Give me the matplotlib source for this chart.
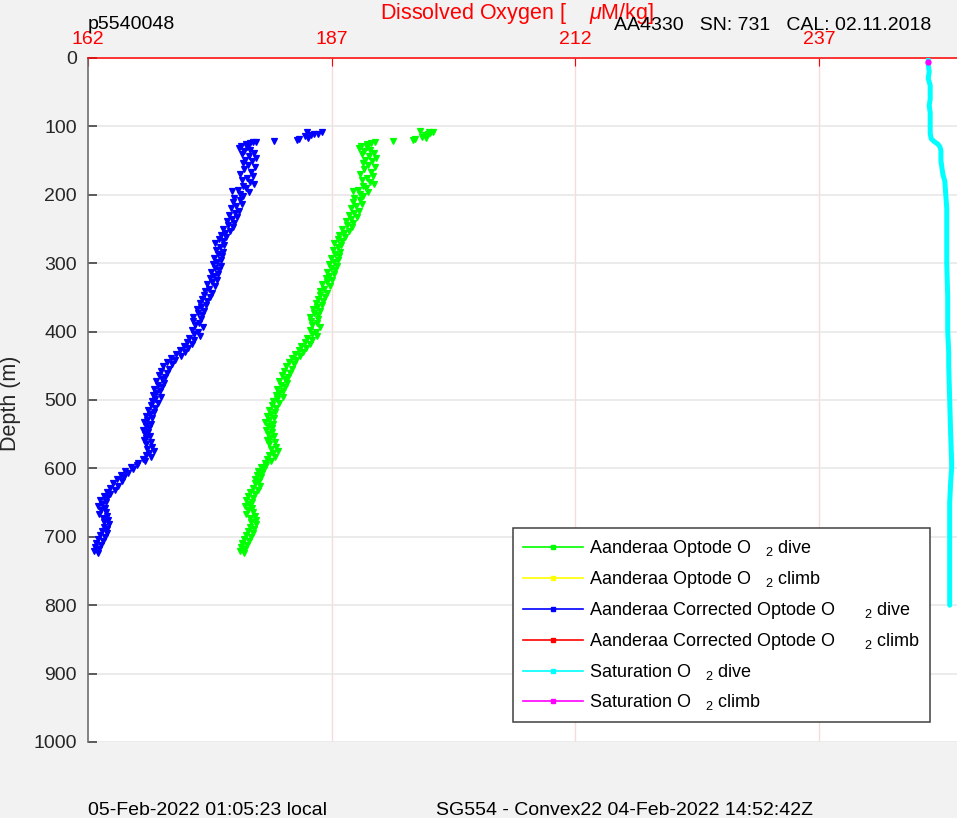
import matplotlib
matplotlib.use("Agg")
import matplotlib.pyplot as plt
from matplotlib.lines import Line2D

plt.rcParams['font.family'] = ['Liberation Sans', 'DejaVu Sans']
plt.rcParams['mathtext.fontset'] = 'custom'
plt.rcParams['mathtext.rm'] = 'Liberation Sans'
plt.rcParams['mathtext.it'] = 'Liberation Sans:italic'

# ---------------- data ----------------
x_ticks = [162, 187, 212, 237]
y_ticks = [0, 100, 200, 300, 400, 500, 600, 700, 800, 900, 1000]

# top outliers (near-surface start of the profile)
blue_top_depth = [108.7, 110.5, 111.6, 107.7, 112.5, 116.5, 114.0, 118.9, 119.5, 120.9, 122.3, 123.5, 124.7, 126.0]
blue_top_o2 = [186.0, 185.6, 185.2, 184.5, 184.9, 184.6, 184.3, 183.6, 183.4, 181.1, 179.2, 178.9, 178.6, 178.2]
green_top_depth = [106.7, 108.7, 107.5, 110.0, 111.5, 113.0, 116.5, 115.0, 118.9, 119.5, 120.9, 122.3, 124.0, 126.0]
green_top_o2 = [196.1, 197.4, 197.0, 197.1, 196.9, 196.6, 196.7, 196.3, 195.5, 195.3, 193.3, 191.4, 191.0, 190.6]

col_depth = [128, 130, 132, 134, 136, 139, 141, 144, 146, 149, 151, 154, 157, 160, 163, 166, 169, 172, 175, 178,
             181, 184, 187, 190, 193, 194, 196, 199,
             202, 205, 208, 211, 214, 217, 220, 223, 226, 229, 232, 235, 238, 241, 244, 247, 250, 253, 256, 259,
             262, 265, 268, 271, 274, 277, 280, 283, 286, 289, 292, 295, 298, 301, 304, 307, 310, 313, 316, 319,
             322, 325, 328, 331, 334, 337, 340, 343, 346, 349, 352, 355, 358, 361, 364, 367, 370, 373, 376, 379,
             382, 385, 388, 391, 394, 397, 400, 403, 406, 409, 412, 415, 418, 421, 424, 427, 430, 433, 436, 439,
             442, 445, 448, 451, 454, 457, 460, 463, 466, 469, 472, 475, 478, 481, 484, 487, 490, 493, 496, 499,
             502, 505, 508, 511, 514, 517, 520, 523, 526, 529, 532, 535, 538, 541, 544, 547, 550, 553, 556, 559,
             562, 565, 568, 571, 574, 577, 580, 583, 586, 589, 592, 595, 598, 601, 604, 607, 610, 613, 616, 619,
             622, 625, 628, 631, 634, 637, 640, 643, 646, 649, 652, 655, 658, 661, 664, 667, 670, 673, 676, 679,
             682, 685, 688, 691, 694, 697, 700, 703, 706, 709, 712, 715, 718, 721, 724]

blue_o2 = [177.7, 178.3, 177.5, 178.6, 178.0, 179.0, 177.8, 178.5, 179.2, 178.1, 178.8, 177.9, 178.4, 179.1, 178.0, 178.7, 177.6, 178.9, 178.3, 177.8,
           178.6, 179.0, 177.9, 178.2, 177.4, 176.8, 178.5, 177.6,
           177.9, 177.0, 177.6, 176.9, 177.8, 177.2, 176.7, 177.5, 177.1, 176.5, 177.3, 176.8, 176.3, 177.0, 176.4, 176.9, 175.9, 176.6, 176.1, 175.6,
           176.2, 175.4, 175.9, 175.0, 176.0, 175.5, 175.1, 175.9, 175.3, 175.7, 174.9, 175.6, 175.2, 174.8, 175.6, 175.0, 175.4, 174.6, 175.3, 174.9,
           174.5, 175.2, 174.7, 174.2, 175.0, 174.4, 174.0, 174.7, 173.9, 174.5, 173.7, 174.2, 173.5, 174.1, 173.6, 173.2, 173.9, 173.3, 173.7, 172.8,
           173.6, 172.8, 173.4, 173.0, 173.8, 172.7, 173.3, 172.9, 173.5, 172.4, 172.9, 172.2, 172.7, 171.8, 172.3, 171.4, 171.9, 171.0, 171.5, 170.5,
           170.9, 170.1, 170.6, 169.7, 170.3, 169.5, 170.1, 169.3, 169.9, 169.6, 169.0, 169.8, 169.2, 169.6, 168.8, 169.4, 169.0, 168.7, 169.5, 168.9,
           168.6, 169.2, 168.5, 168.9, 168.2, 168.8, 168.4, 167.9, 168.6, 168.1, 167.7, 168.5, 167.9, 168.3, 167.6, 168.2, 167.8, 168.4, 168.0, 167.7,
           168.5, 167.9, 168.6, 168.1, 168.8, 168.3, 167.9, 168.5, 167.6, 167.8, 167.1, 167.0, 166.4, 166.6, 165.8, 166.1, 165.4, 165.7, 165.0, 165.5,
           164.6, 165.1, 164.3, 164.8, 163.9, 164.3, 163.6, 163.9, 163.2, 163.8, 163.4, 163.0, 163.7, 163.3, 163.8, 163.1, 164.0, 163.5, 164.1, 163.6,
           164.2, 163.6, 164.0, 163.4, 163.9, 163.2, 163.7, 163.0, 163.5, 162.8, 163.3, 162.7, 163.1, 162.6, 163.0]

green_o2 = [190.0, 190.6, 189.8, 190.9, 190.3, 191.3, 190.1, 190.8, 191.5, 190.4, 191.1, 190.2, 190.7, 191.4, 190.3, 191.0, 189.9, 191.2, 190.6, 190.1,
            190.9, 191.3, 190.2, 190.5, 189.7, 189.2, 190.7, 189.9,
            190.2, 189.3, 189.9, 189.2, 190.1, 189.5, 189.0, 189.8, 189.3, 188.8, 189.6, 189.0, 188.5, 189.2, 188.6, 189.1, 188.1, 188.8, 188.3, 187.8,
            188.4, 187.6, 188.1, 187.2, 188.0, 187.6, 187.1, 187.9, 187.3, 187.7, 186.9, 187.6, 187.2, 186.7, 187.5, 186.9, 187.3, 186.5, 187.2, 186.7,
            186.4, 187.0, 186.5, 186.0, 186.8, 186.2, 185.8, 186.5, 185.8, 186.3, 185.6, 186.1, 185.4, 186.0, 185.5, 185.1, 185.8, 185.2, 185.6, 184.8,
            185.6, 184.9, 185.5, 185.0, 185.8, 184.8, 185.4, 185.0, 185.5, 184.5, 185.0, 184.3, 184.8, 183.9, 184.4, 183.6, 184.1, 183.2, 183.7, 182.9,
            183.3, 182.6, 183.1, 182.3, 182.9, 182.1, 182.7, 181.9, 182.5, 182.2, 181.6, 182.4, 181.8, 182.2, 181.4, 182.0, 181.6, 181.3, 182.0, 181.4,
            181.0, 181.6, 180.9, 181.3, 180.6, 181.2, 180.8, 180.4, 181.1, 180.6, 180.2, 181.0, 180.5, 180.9, 180.3, 180.9, 180.5, 181.1, 180.7, 180.4,
            181.2, 180.6, 181.3, 180.8, 181.5, 181.0, 180.6, 181.2, 180.4, 180.8, 180.2, 180.3, 179.7, 180.1, 179.4, 179.8, 179.3, 179.7, 179.1, 179.5,
            179.1, 179.6, 178.9, 179.4, 178.6, 179.1, 178.4, 178.9, 178.2, 178.8, 178.5, 178.1, 178.8, 178.4, 178.9, 178.2, 179.1, 178.6, 179.2, 178.7,
            179.2, 178.6, 179.0, 178.4, 178.9, 178.2, 178.7, 178.0, 178.5, 177.8, 178.3, 177.7, 178.1, 177.6, 178.0]

sat_depth = [2, 10, 20, 30, 40, 50, 60, 70, 80, 90, 100, 110, 118, 122, 126, 130, 135, 140, 150, 160, 170, 180,
             200, 220, 240, 260, 280, 300, 350, 400, 430, 450, 500, 550, 590, 600, 620, 650, 700, 750, 800]
sat_o2 = [248.2, 248.2, 248.3, 248.2, 248.4, 248.4, 248.4, 248.3, 248.4, 248.4, 248.4, 248.4, 248.5, 248.8, 249.2,
          249.4, 249.5, 249.5, 249.5, 249.6, 249.7, 249.9, 250.0, 250.1, 250.1, 250.1, 250.1, 250.1, 250.2, 250.2,
          250.3, 250.3, 250.4, 250.5, 250.6, 250.6, 250.5, 250.4, 250.4, 250.4, 250.4]

sat_climb_depth = [5.4]
sat_climb_o2 = [248.2]

legend_labels = ["Aanderaa Optode O   $_2$ dive",
                 "Aanderaa Optode O   $_2$ climb",
                 "Aanderaa Corrected Optode O      $_2$ dive",
                 "Aanderaa Corrected Optode O      $_2$ climb",
                 "Saturation O   $_2$ dive",
                 "Saturation O   $_2$ climb"]
legend_colors = ['#00ff00', '#ffff00', '#0000ff', '#ff0000', '#00ffff', '#ff00ff']

# ---------------- figure ----------------
W, H = 957, 818
fig = plt.figure(figsize=(W / 100, H / 100), dpi=100, facecolor='#f2f2f2')
ax = fig.add_axes([88 / W, (H - 742) / H, 869 / W, 684 / H])
ax.set_facecolor('white')

ax.set_xlim(162, 251.15)
ax.set_ylim(1000, 0)

# data
ax.plot(green_top_o2 + green_o2, green_top_depth + col_depth, linestyle='none', marker='v',
        ms=3.9, mew=0.9, color='#00ff00', mec='#00ff00', zorder=3)
ax.plot(blue_top_o2 + blue_o2, blue_top_depth + col_depth, linestyle='none', marker='v',
        ms=3.9, mew=0.9, color='#0000ff', mec='#0000ff', zorder=3)
ax.plot(sat_o2, sat_depth, color='#00ffff', lw=3.6, solid_capstyle='round', zorder=3)
ax.plot(sat_climb_o2, sat_climb_depth, linestyle='none', marker='o', ms=3.5, color='#ff00ff', zorder=4)

# axes styling
ax.xaxis.tick_top()
ax.xaxis.set_label_position('top')
ax.set_xticks(x_ticks)
ax.set_xticklabels([str(v) for v in x_ticks])
ax.set_yticks(y_ticks)
ax.set_yticklabels([str(v) for v in y_ticks])

ax.tick_params(axis='x', which='both', direction='in', length=6, width=0.8, colors='red',
               labelsize=14, pad=7, top=True, bottom=False)
ax.tick_params(axis='y', which='both', direction='in', length=6.5, width=1.1, color='#333333',
               labelcolor='#262626', labelsize=14, pad=8)

for side in ['right', 'bottom']:
    ax.spines[side].set_visible(False)
ax.spines['top'].set_color('red')
ax.spines['top'].set_linewidth(1.1)
ax.spines['left'].set_color('#6e6e6e')
ax.spines['left'].set_linewidth(1.2)

ax.set_axisbelow(True)
ax.grid(axis='x', color='#f8dada', lw=1.0)
ax.grid(axis='y', color='#e8e8e8', lw=1.2)
ax.get_xgridlines()[0].set_visible(False)

ax.set_xlabel("Dissolved Oxygen [    $\\mu$M/kg]", color='red', fontsize=15.5)
ax.xaxis.set_label_coords((517 - 88) / 869, 1 + (58 - 19) / 684)
ax.set_ylabel("Depth (m)", color='#262626', fontsize=15.5)
ax.yaxis.set_label_coords((21 - 88) / 869, 1 - (403 - 58) / 684)

# legend
handles = [Line2D([0], [0], color=c, lw=1.2, marker='s', ms=3, mec=c, mfc=c) for c in legend_colors]
leg = ax.legend(handles, legend_labels, loc='upper left',
                bbox_to_anchor=((513 - 88) / 869, 1 - (528 - 58) / 684),
                borderaxespad=0, fontsize=13, handlelength=3.3, handletextpad=0.35,
                borderpad=0.55, labelspacing=0.56, frameon=True, fancybox=False)
leg.get_frame().set_edgecolor('#404040')
leg.get_frame().set_linewidth(1.1)
leg.get_frame().set_facecolor('white')
leg.get_frame().set_alpha(1)
leg.set_zorder(10)

# figure texts
fig.text(88 / W, 1 - 29 / H, "p5540048", fontsize=14, color='black', va='baseline', ha='left')
fig.text(614 / W, 1 - 30 / H, "AA4330   SN: 731   CAL: 02.11.2018", fontsize=14, color='black',
         va='baseline', ha='left')
fig.text(88 / W, 1 - 815 / H, "05-Feb-2022 01:05:23 local", fontsize=14, color='black',
         va='baseline', ha='left')
fig.text(436 / W, 1 - 815 / H, "SG554 - Convex22 04-Feb-2022 14:52:42Z", fontsize=14, color='black',
         va='baseline', ha='left')

fig.savefig("out.png", dpi=100, facecolor=fig.get_facecolor())
